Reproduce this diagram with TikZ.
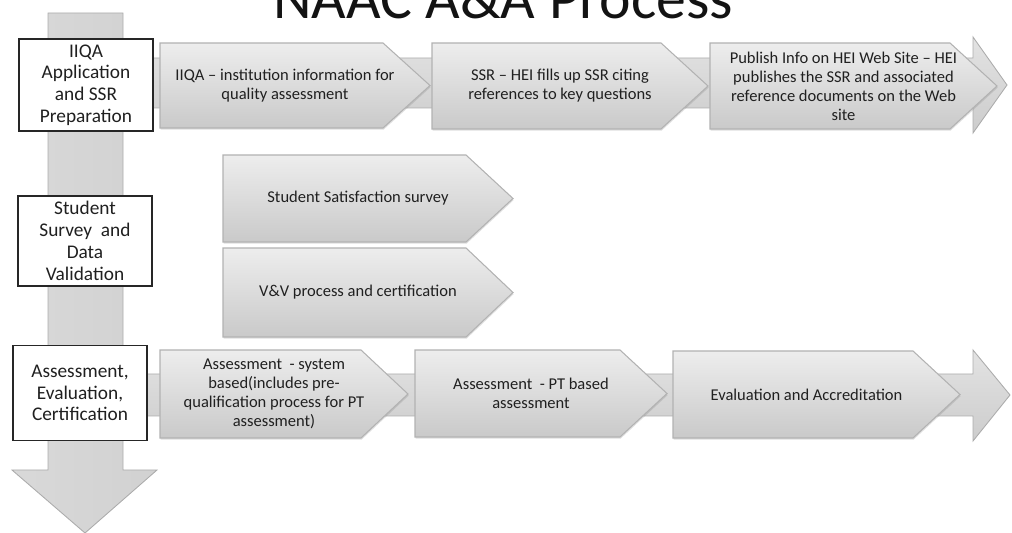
\documentclass[tikz,border=0pt]{standalone}
\usepackage{fontspec}
\setmainfont{Carlito}
\usetikzlibrary{shadows}

\begin{document}
\begin{tikzpicture}[x=0.02cm, y=-0.02cm,
    bigarrow/.style={draw=gray!65, line width=0.5pt, top color=gray!22, bottom color=gray!40},
    chevron/.style={draw=gray!60, line width=0.6pt, top color=gray!14, bottom color=gray!42,
      drop shadow={opacity=0.25, shadow xshift=0.4pt, shadow yshift=-0.9pt}},
    steptext/.style={align=center, text=gray!25!black, inner sep=0pt,
      font=\fontsize{9.4}{10.8}\selectfont},
    phasebox/.style={draw=gray!30!black, line width=1.1pt, fill=white, align=center,
      text=gray!25!black, font=\fontsize{11}{12.4}\selectfont},
  ]

  % Page frame
  \useasboundingbox (0,0) rectangle (1012,533);

  % Title (cut by the top edge)
  \node[anchor=base, text=gray!15!black, inner sep=0pt, font=\fontsize{34}{40}\selectfont]
    (title) at (503,19) {NAAC A\&A Process};

  % Long downward arrow
  \draw[bigarrow, left color=gray!30, right color=gray!36]
    (48,13) -- (123,13) -- (123,470) -- (157,470) -- (85,533) -- (12,470) -- (48,470) -- cycle;

  % Horizontal arrows behind the steps
  \draw[bigarrow] (123,58) -- (973,58) -- (973,37) -- (1007,85) -- (973,133) -- (973,108) -- (123,108) -- cycle;
  \draw[bigarrow] (123,374) -- (973,374) -- (973,350) -- (1010,395) -- (973,441) -- (973,416) -- (123,416) -- cycle;

  % Phase boxes
  \node[phasebox, minimum width=134*0.02cm, minimum height=86*0.02cm] (prep) at (86,85)
    {IIQA\\Application\\and SSR\\Preparation};
  \node[phasebox, minimum width=134*0.02cm, minimum height=88*0.02cm] (validation) at (85,241)
    {Student\\Survey~ and\\Data\\Validation};
  \node[phasebox, minimum width=134*0.02cm, minimum height=95*0.02cm] (certif) at (80,393)
    {Assessment,\\Evaluation,\\Certification};

  % Steps
  \foreach \xa/\xb/\ya/\yb/\nm/\txt in {
      160/430/43/128/iiqa/{IIQA – institution information for\\quality assessment},
      432/708/43/129/ssr/{SSR – HEI fills up SSR citing\\references to key questions},
      710/997/43/129/publish/{Publish Info on HEI Web Site – HEI\\publishes the SSR and associated\\reference documents on the Web\\site},
      223/513/155/242/survey/{Student Satisfaction survey},
      223/513/248/337/vv/{V\&V process and certification},
      160/408/350/438/sysassess/{Assessment~ - system\\based(includes pre-\\qualification process for PT\\assessment)},
      415/667/350/437/ptassess/{Assessment~ - PT based\\assessment},
      673/960/351/438/accred/{Evaluation and Accreditation}} {
    \pgfmathsetmacro\ym{(\ya+\yb)/2}
    \pgfmathsetmacro\xd{\xb-47}
    \pgfmathsetmacro\xt{(\xa+\xb-20)/2}
    \draw[chevron] (\xa,\ya) -- (\xd,\ya) -- (\xb,\ym) -- (\xd,\yb) -- (\xa,\yb) -- cycle;
    \node[steptext] (\nm) at (\xt,\ym) {\txt};
  }

\end{tikzpicture}
\end{document}
